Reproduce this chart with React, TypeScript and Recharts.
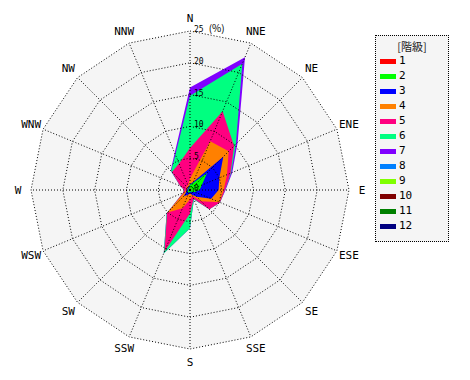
import React from 'react';
import { RadarChart, Radar, PolarGrid, PolarAngleAxis, PolarRadiusAxis } from 'recharts';

const directions = ['N', 'NNE', 'NE', 'ENE', 'E', 'ESE', 'SE', 'SSE', 'S', 'SSW', 'SW', 'WSW', 'W', 'WNW', 'NW', 'NNW'];

const classNames = ['1', '2', '3', '4', '5', '6', '7', '8', '9', '10', '11', '12'];
const classColors = ['#ff0000', '#00ff00', '#0000ff', '#ff8000', '#ff0080', '#00ff80', '#8000ff', '#0080ff', '#80ff00', '#800000', '#008000', '#000080'];

// frequency (%) of each class per direction (N, NNE, ... NNW)
const class1 = [0.2, 0.2, 0.3, 0.2, 0.2, 0.2, 0.1, 0.1, 0.1, 0.1, 0.2, 0.1, 0.1, 0.1, 0.1, 0.1];
const class2 = [0.6, 1.0, 3.5, 1.8, 1.3, 0.6, 0.3, 0.2, 0.2, 0.3, 0.4, 0.2, 0.2, 0.2, 0.2, 0.2];
const class3 = [0.1, 0.2, 3.6, 3.0, 3.0, 2.8, 1.1, 0.5, 0.2, 0.4, 0.8, 0.3, 0.2, 0.1, 0.2, 0.2];
const class4 = [0.9, 6.9, 1.2, 1.3, 0.8, 1.4, 1.0, 0.2, 1.0, 2.3, 3.6, 0.4, 0.1, 0.2, 0.3, 0.3];
const class5 = [4.8, 5.1, 1.2, 0.6, 0.2, 0.1, 1.8, 0.5, 2.2, 7.4, 0.1, 0.2, 0.3, 1.1, 3.2, 3.7];
const class6 = [8.2, 8.1, 0.4, 0.1, 0.0, 0.0, 0.0, 0.1, 2.3, 0.3, 0.1, 0.0, 0.0, 0.0, 0.2, 1.5];
const class7 = [1.3, 1.1, 0.4, 0.2, 0.1, 0.0, 0.0, 0.0, 0.0, 0.0, 0.0, 0.0, 0.0, 0.0, 0.1, 0.3];
const class8 = [0, 0, 0, 0, 0, 0, 0, 0, 0, 0, 0, 0, 0, 0, 0, 0];
const class9 = [0, 0, 0, 0, 0, 0, 0, 0, 0, 0, 0, 0, 0, 0, 0, 0];
const class10 = [0, 0, 0, 0, 0, 0, 0, 0, 0, 0, 0, 0, 0, 0, 0, 0];
const class11 = [0, 0, 0, 0, 0, 0, 0, 0, 0, 0, 0, 0, 0, 0, 0, 0];
const class12 = [0, 0, 0, 0, 0, 0, 0, 0, 0, 0, 0, 0, 0, 0, 0, 0];

const radiusTicks = [0, 5, 10, 15, 20, 25];
const unitLabel = '(%)';
const legendTitle = '[階級]';

const classValues = [class1, class2, class3, class4, class5, class6, class7, class8, class9, class10, class11, class12];

// cumulative (stacked) table for the wind rose
const rows = directions.map((dir, d) => {
  const row: Record<string, number | string> = { dir };
  let sum = 0;
  classValues.forEach((vals, k) => {
    sum += vals[d];
    row['c' + (k + 1)] = Math.round(sum * 100) / 100;
  });
  row.bg = radiusTicks[radiusTicks.length - 1];
  return row;
});

const drawnClasses = classValues
  .map((vals, k) => ({ k, any: vals.some((v) => v > 0) }))
  .filter((c) => c.any)
  .map((c) => c.k)
  .reverse();

const AngleTick = (props: any) => {
  const { x, y, payload } = props;
  return (
    <text x={x} y={y} textAnchor="middle" dominantBaseline="central" fontSize={11} fontFamily="DejaVu Sans Mono" fill="#000">
      {payload.value}
    </text>
  );
};

const RadiusTick = (props: any) => {
  const { x, y, payload } = props;
  const last = payload.value === radiusTicks[radiusTicks.length - 1];
  return (
    <text x={x + 4} y={y + 1} textAnchor="start" fontSize={8} fontFamily="DejaVu Sans Mono" fill="#000">
      {payload.value}
      {last ? <tspan fontSize={10} fontFamily="Noto Sans CJK JP" dx={5}>{unitLabel}</tspan> : null}
    </text>
  );
};

export default function App() {
  return (
    <div style={{ position: 'absolute', left: 0, top: 0, width: 470, height: 380, background: '#fff' }}>
      <RadarChart width={470} height={380} cx={190} cy={190} outerRadius={159} data={rows} margin={{ top: 0, right: 0, bottom: 0, left: 0 }}>
        <Radar dataKey="bg" fill="#f5f5f5" fillOpacity={1} stroke="none" isAnimationActive={false} dot={false} />
        {drawnClasses.map((k) => (
          <Radar
            key={k}
            name={classNames[k]}
            dataKey={'c' + (k + 1)}
            fill={classColors[k]}
            fillOpacity={1}
            stroke="none"
            isAnimationActive={false}
            dot={false}
          />
        ))}
        <PolarGrid gridType="polygon" stroke="#000" strokeDasharray="1 2" strokeWidth={1} zIndex={1000} />
        <PolarAngleAxis dataKey="dir" axisLine={false} tickLine={false} tickSize={13} tick={<AngleTick />} />
        <PolarRadiusAxis angle={90} domain={[0, 25]} ticks={radiusTicks} axisLine={false} tickLine={false} tick={<RadiusTick />} />
      </RadarChart>
      <div
        style={{
          position: 'absolute',
          left: 375,
          top: 35,
          width: 74,
          height: 207,
          border: '1px dotted #000',
          background: '#f5f5f5',
          boxSizing: 'border-box',
        }}
      >
        <div style={{ position: 'absolute', left: 0, top: 3, width: '100%', textAlign: 'center', fontSize: 11, fontFamily: 'Noto Sans CJK JP', lineHeight: '14px', color: '#222' }}>
          {legendTitle}
        </div>
        {classNames.map((name, i) => (
          <div key={name} style={{ position: 'absolute', left: 4, top: 18 + i * 15, height: 14, display: 'flex', alignItems: 'center' }}>
            <div style={{ width: 16, height: 5, background: classColors[i] }} />
            <span style={{ marginLeft: 3, fontSize: 11, fontFamily: 'DejaVu Sans Mono', lineHeight: '14px', color: '#000' }}>{name}</span>
          </div>
        ))}
      </div>
    </div>
  );
}
